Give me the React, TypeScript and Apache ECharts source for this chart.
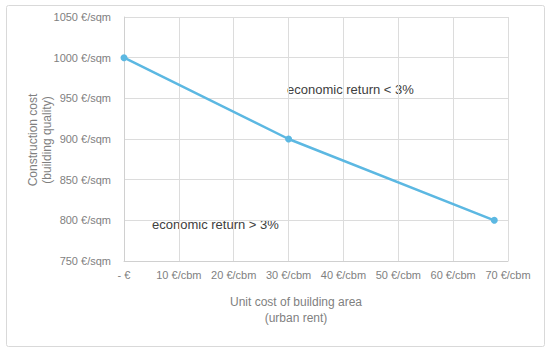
import React, { useEffect, useRef } from "react";
import * as echarts from "echarts";

const xValues = [0, 30, 67.5];
const yValues = [1000, 900, 800];
const xTickLabelZero = "- €";
const xUnit = " €/cbm";
const yUnit = " €/sqm";
const xAxisTitle = ["Unit cost of building area", "(urban rent)"];
const yAxisTitle = ["Construction cost", "(building quality)"];
const annotations = ["economic return < 3%", "economic return > 3%"];

const FONT = "'Liberation Sans', Arial, Helvetica, sans-serif";
const GRAY = "#7f7f7f";

export default function App() {
  const ref = useRef<HTMLDivElement>(null);
  useEffect(() => {
    if (!ref.current) return;
    const chart = echarts.init(ref.current, undefined, { renderer: "svg" });
    chart.setOption({
      animation: false,
      backgroundColor: "#ffffff",
      grid: { left: 124, right: 42, top: 17, bottom: 92, containLabel: false },
      xAxis: {
        type: "value",
        min: 0,
        max: 70,
        interval: 10,
        axisLine: { show: true, lineStyle: { color: "#d0d0d0", width: 1 } },
        axisTick: { show: false },
        splitLine: { show: true, lineStyle: { color: "#dcdcdc", width: 1 } },
        axisLabel: {
          color: GRAY,
          fontFamily: FONT,
          fontSize: 11,
          margin: 8,
          formatter: (v: number) => (v === 0 ? xTickLabelZero : v + xUnit),
        },
      },
      yAxis: {
        type: "value",
        min: 750,
        max: 1050,
        interval: 50,
        axisLine: { show: true, lineStyle: { color: "#d0d0d0", width: 1 } },
        axisTick: { show: false },
        splitLine: { show: true, lineStyle: { color: "#dcdcdc", width: 1 } },
        axisLabel: {
          color: GRAY,
          fontFamily: FONT,
          fontSize: 11,
          margin: 13,
          formatter: (v: number) => v + yUnit,
        },
      },
      series: [
        {
          type: "line",
          data: xValues.map((x, i) => [x, yValues[i]]),
          lineStyle: { color: "#5cb8e2", width: 2.5 },
          itemStyle: { color: "#5cb8e2" },
          symbol: "circle",
          symbolSize: 7,
          showSymbol: true,
        },
      ],
      graphic: [
        {
          type: "rect",
          shape: { x: 6.5, y: 5.5, width: 538, height: 341, r: 2 },
          style: { fill: "none", stroke: "#d9d9d9", lineWidth: 1 },
          silent: true,
          z: -1,
        },
        {
          type: "text",
          x: 296,
          y: 302,
          style: {
            text: xAxisTitle[0],
            fill: GRAY,
            font: `12px ${FONT}`,
            textAlign: "center",
            textVerticalAlign: "middle",
          },
        },
        {
          type: "text",
          x: 296,
          y: 318,
          style: {
            text: xAxisTitle[1],
            fill: GRAY,
            font: `12px ${FONT}`,
            textAlign: "center",
            textVerticalAlign: "middle",
          },
        },
        {
          type: "text",
          x: 33,
          y: 140,
          rotation: Math.PI / 2,
          style: {
            text: yAxisTitle[0],
            fill: GRAY,
            font: `12px ${FONT}`,
            textAlign: "center",
            textVerticalAlign: "middle",
          },
        },
        {
          type: "text",
          x: 47,
          y: 140,
          rotation: Math.PI / 2,
          style: {
            text: yAxisTitle[1],
            fill: GRAY,
            font: `12px ${FONT}`,
            textAlign: "center",
            textVerticalAlign: "middle",
          },
        },
        {
          type: "text",
          x: 287,
          y: 89,
          style: {
            text: annotations[0],
            fill: "#404040",
            font: `13px ${FONT}`,
            textAlign: "left",
            textVerticalAlign: "middle",
          },
        },
        {
          type: "text",
          x: 152,
          y: 224,
          style: {
            text: annotations[1],
            fill: "#404040",
            font: `13px ${FONT}`,
            textAlign: "left",
            textVerticalAlign: "middle",
          },
        },
      ],
    });
    return () => chart.dispose();
  }, []);
  return <div ref={ref} style={{ width: 550, height: 353, position: "absolute", left: 0, top: 0 }} />;
}
